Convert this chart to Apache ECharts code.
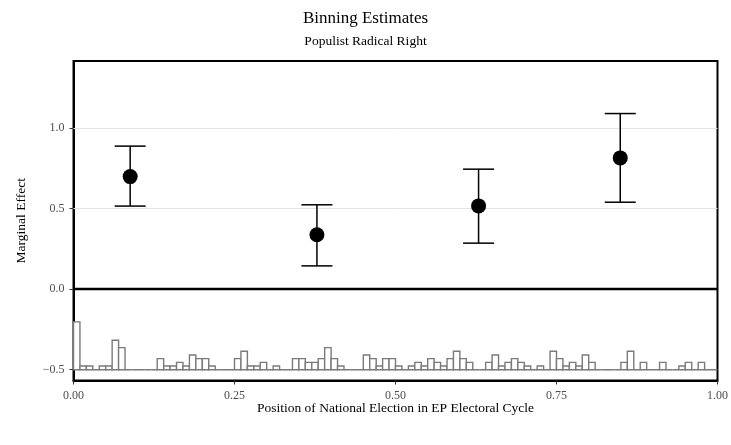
<!DOCTYPE html>
<html>
<head>
<meta charset="utf-8">
<title>Binning Estimates</title>
<script src="https://cdn.jsdelivr.net/npm/echarts@6/dist/echarts.min.js"></script>
<style>
  html, body { margin: 0; padding: 0; background: #fff; }
  #chart { width: 731px; height: 445px; }
</style>
</head>
<body>
<div id="chart"></div>
<script>
// binned marginal effects (low / mid / high ... bins of the moderator)
const binX = [0.088, 0.378, 0.629, 0.849]
const effect = [0.698, 0.337, 0.516, 0.814]
const ciLower = [0.515, 0.144, 0.285, 0.539]
const ciUpper = [0.887, 0.523, 0.744, 1.089]

// histogram of the moderator, 100 bins of width 0.01 starting at 0
const binCounts = [
  13, 1, 1, 0, 1, 1, 8, 6, 0, 0,
  0, 0, 0, 3, 1, 1, 2, 1, 4, 3,
  3, 1, 0, 0, 0, 3, 5, 1, 1, 2,
  0, 1, 0, 0, 3, 3, 2, 2, 3, 6,
  3, 1, 0, 0, 0, 4, 3, 1, 3, 3,
  1, 0, 1, 2, 1, 3, 2, 1, 3, 5,
  3, 2, 0, 0, 2, 4, 1, 2, 3, 2,
  1, 0, 1, 0, 5, 3, 1, 2, 1, 4,
  2, 0, 0, 0, 0, 2, 5, 0, 2, 0,
  0, 2, 0, 0, 1, 2, 0, 2, 0, 0
]
const binStart = 0
const binWidth = 0.01

const xTicks = [0, 0.25, 0.5, 0.75, 1]
const yTicks = [-0.5, 0, 0.5, 1]

// histogram sits on y = -0.5, each count adds histUnit
const histBase = -0.5
const histUnit = 0.0228

const FONT = 'Liberation Serif'

const histData = binCounts.map((n, i) => [binStart + i * binWidth, binStart + (i + 1) * binWidth, n])
const ciData = binX.map((x, i) => [x, ciLower[i], ciUpper[i]])
const pointData = binX.map((x, i) => [x, effect[i]])

const chart = echarts.init(document.getElementById('chart'))

chart.setOption({
  animation: false,
  backgroundColor: '#fff',
  title: {
    text: 'Binning Estimates',
    subtext: 'Populist Radical Right',
    left: 'center',
    top: 5,
    itemGap: 7,
    textStyle: { fontFamily: FONT, fontSize: 17, fontWeight: 'normal', color: '#000' },
    subtextStyle: { fontFamily: FONT, fontSize: 13.5, color: '#000' }
  },
  grid: {
    left: 73.5,
    right: 13,
    top: 61,
    bottom: 64.5,
    show: true,
    borderColor: '#000',
    borderWidth: 2,
    backgroundColor: 'transparent'
  },
  xAxis: {
    type: 'value',
    min: 0,
    max: 1,
    interval: 0.25,
    name: 'Position of National Election in EP Electoral Cycle',
    nameLocation: 'middle',
    nameGap: 21,
    nameMoveOverlap: false,
    nameTextStyle: { fontFamily: FONT, fontSize: 13.5, color: '#000' },
    axisLine: { show: true, onZero: false, lineStyle: { color: '#000', width: 2 } },
    axisTick: { show: true, length: 4, lineStyle: { color: '#333' } },
    axisLabel: {
      fontFamily: FONT, fontSize: 12, color: '#4d4d4d', margin: 9,
      customValues: xTicks,
      formatter: v => v.toFixed(2)
    },
    splitLine: { show: false }
  },
  yAxis: {
    type: 'value',
    min: -0.567,
    max: 1.415,
    name: 'Marginal Effect',
    nameLocation: 'middle',
    nameRotate: 90,
    nameGap: 45,
    nameMoveOverlap: false,
    nameTextStyle: { fontFamily: FONT, fontSize: 13.5, color: '#000' },
    axisLine: { show: true, onZero: false, lineStyle: { color: '#000', width: 2 } },
    axisTick: { show: true, length: 4, customValues: yTicks, lineStyle: { color: '#333' } },
    axisLabel: {
      fontFamily: FONT, fontSize: 12, color: '#4d4d4d', margin: 9,
      customValues: yTicks,
      formatter: v => (v < 0 ? '\u2212' : '') + Math.abs(v).toFixed(1)
    },
    splitLine: { show: false }
  },
  series: [
    {
      // histogram at the bottom
      type: 'custom',
      z: 3,
      data: histData,
      encode: { x: [0, 1], y: 2 },
      renderItem: function (params, api) {
        const p0 = api.coord([api.value(0), histBase])
        const p1 = api.coord([api.value(1), histBase + api.value(2) * histUnit])
        return {
          type: 'rect',
          shape: { x: p0[0], y: p1[1], width: p1[0] - p0[0], height: p0[1] - p1[1] },
          style: { fill: '#fff', stroke: '#7a7a7a', lineWidth: 1.4 }
        }
      },
      markLine: {
        silent: true,
        symbol: 'none',
        z: 1,
        label: { show: false },
        data: [
          { yAxis: 0.5, lineStyle: { color: '#e3e3e3', width: 1, type: 'solid' } },
          { yAxis: 1, lineStyle: { color: '#e3e3e3', width: 1, type: 'solid' } },
          { yAxis: 0, lineStyle: { color: '#000', width: 2.4, type: 'solid' } }
        ]
      }
    },
    {
      // confidence intervals
      type: 'custom',
      z: 8,
      data: ciData,
      encode: { x: 0, y: [1, 2] },
      renderItem: function (params, api) {
        const top = api.coord([api.value(0), api.value(2)])
        const bot = api.coord([api.value(0), api.value(1)])
        const w = 15.5
        const st = { stroke: '#000', lineWidth: 1.5 }
        return {
          type: 'group',
          children: [
            { type: 'line', shape: { x1: top[0], y1: top[1], x2: bot[0], y2: bot[1] }, style: st },
            { type: 'line', shape: { x1: top[0] - w, y1: top[1], x2: top[0] + w, y2: top[1] }, style: st },
            { type: 'line', shape: { x1: bot[0] - w, y1: bot[1], x2: bot[0] + w, y2: bot[1] }, style: st }
          ]
        }
      }
    },
    {
      type: 'scatter',
      z: 10,
      data: pointData,
      symbol: 'circle',
      symbolSize: 15,
      itemStyle: { color: '#000', opacity: 1 }
    }
  ]
})
</script>
</body>
</html>
